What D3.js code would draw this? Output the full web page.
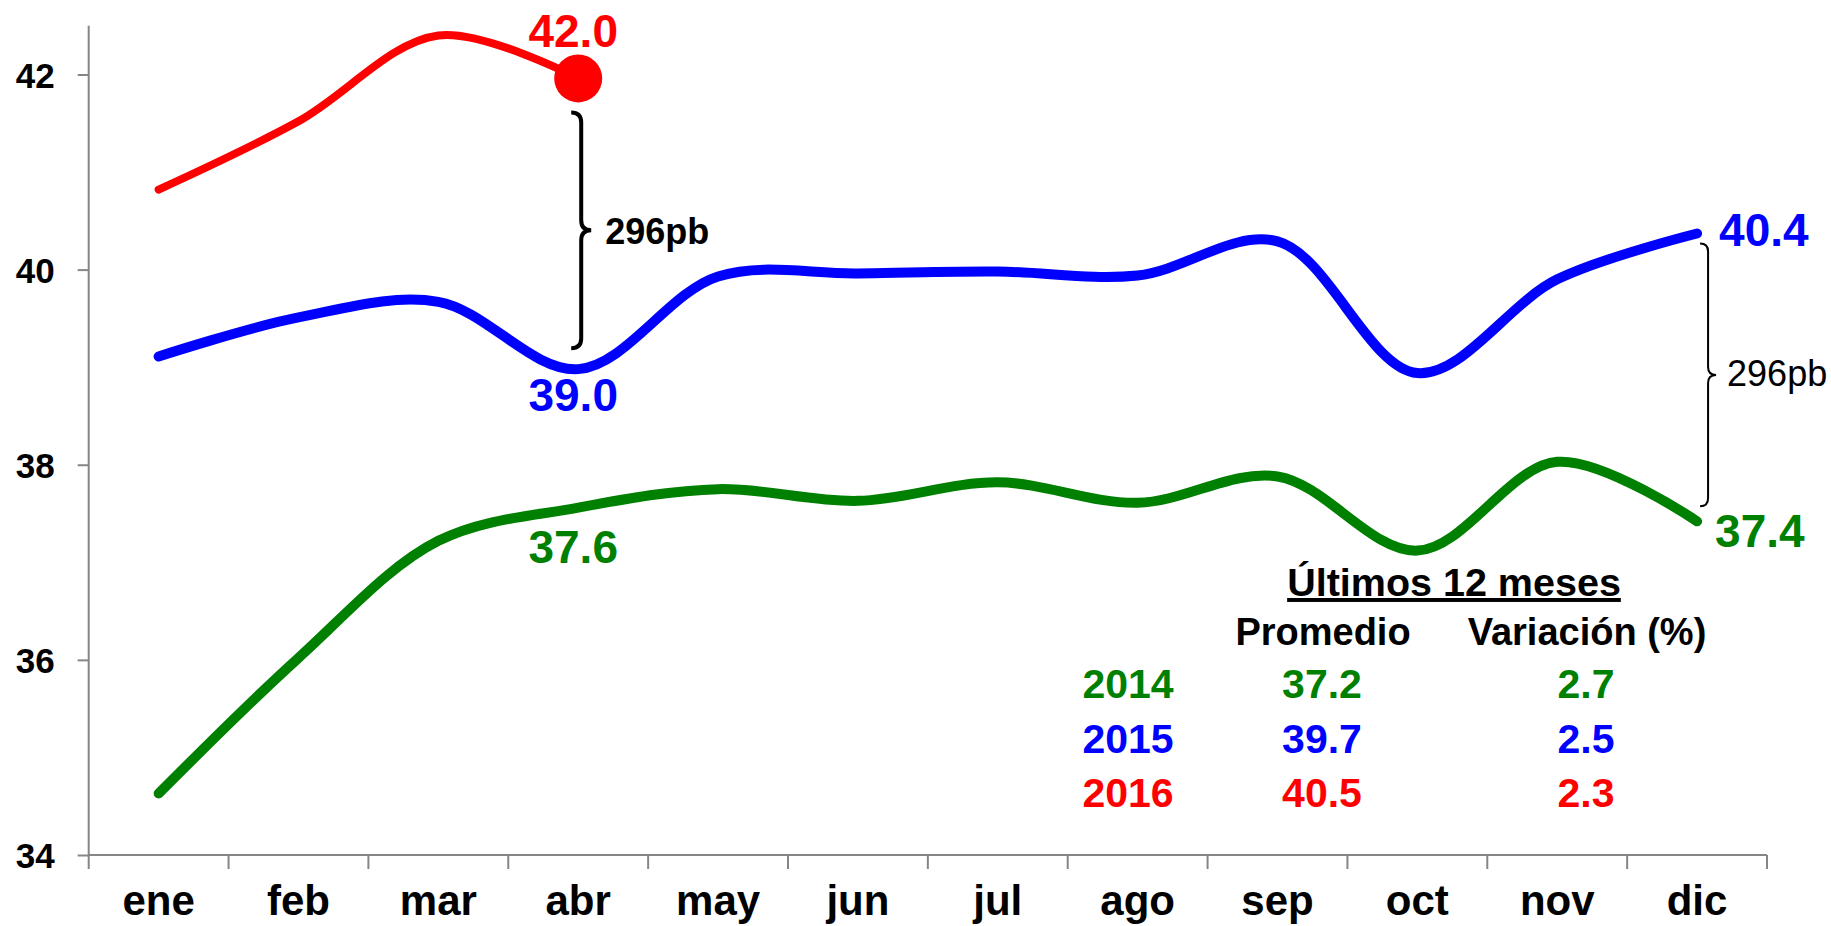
<!DOCTYPE html>
<html>
<head>
<meta charset="utf-8">
<script src="https://cdn.jsdelivr.net/npm/d3@7"></script>
<style>
  html, body { margin: 0; padding: 0; background: #fff; }
  svg { display: block; font-family: "Liberation Sans", Arial, sans-serif; }
</style>
</head>
<body>
<script>
var months = ["ene", "feb", "mar", "abr", "may", "jun", "jul", "ago", "sep", "oct", "nov", "dic"];
var yTicks = [34, 36, 38, 40, 42];

var serie2014 = [34.63, 36.02, 37.22, 37.56, 37.75, 37.63, 37.82, 37.61, 37.88, 37.12, 38.03, 37.42];
var serie2015 = [39.11, 39.51, 39.67, 38.98, 39.93, 39.96, 39.98, 39.94, 40.29, 38.94, 39.90, 40.37];
var serie2016 = [40.82, 41.52, 42.40, 41.96];

var tableYears = ["2014", "2015", "2016"];
var tableAvg = ["37.2", "39.7", "40.5"];
var tableVar = ["2.7", "2.5", "2.3"];
var tableColors = ["#008000", "#0000ff", "#ff0000"];

(function() {
	var width = 1831,
		height = 926,
		left = 88.7,
		right = 1767,
		top = 25.7,
		bottom = 855,
		axisColor = "#868686",
		font = "\"Liberation Sans\", Arial, sans-serif";

	var svg = d3.select("body").append("svg")
		.attr("width", width)
		.attr("height", height);

	var x = d3.scaleBand().domain(months).range([left, right]);
	var y = d3.scaleLinear().domain([34, 42.5]).range([bottom, top]);
	var cx = function(i) { return x(months[i]) + x.bandwidth() / 2; };

	// y axis
	var yAxis = svg.append("g")
		.attr("transform", "translate(" + left + ",0)")
		.call(d3.axisLeft(y).tickValues(yTicks).tickSize(11).tickPadding(0).tickFormat(d3.format("d")));
	yAxis.select(".domain").attr("stroke", axisColor).attr("stroke-width", 2).attr("d", "M0," + top + "V" + bottom);
	yAxis.selectAll(".tick line").attr("stroke", axisColor).attr("stroke-width", 2);
	yAxis.selectAll(".tick text")
		.attr("x", -34)
		.attr("dy", "0.36em")
		.attr("fill", "#000")
		.style("font", "bold 35px " + font);

	// x axis with ticks on band edges
	var xAxis = svg.append("g").attr("transform", "translate(0," + bottom + ")");
	xAxis.append("line")
		.attr("x1", left).attr("x2", right)
		.attr("stroke", axisColor).attr("stroke-width", 2);
	xAxis.selectAll("line.edge")
		.data(months.concat(["end"]))
		.enter().append("line")
		.classed("edge", true)
		.attr("x1", function(d, i) { return left + i * x.bandwidth(); })
		.attr("x2", function(d, i) { return left + i * x.bandwidth(); })
		.attr("y1", 0).attr("y2", 14)
		.attr("stroke", axisColor).attr("stroke-width", 2);
	xAxis.selectAll("text")
		.data(months)
		.enter().append("text")
		.attr("x", function(d, i) { return cx(i); })
		.attr("y", 60)
		.attr("text-anchor", "middle")
		.style("font", "bold 42px " + font)
		.text(function(d) { return d; });

	// lines
	var line = d3.line()
		.x(function(d, i) { return cx(i); })
		.y(function(d) { return y(d); })
		.curve(d3.curveCatmullRom.alpha(0.5));

	var series = [
		{values: serie2014, color: "#008000", w: 10},
		{values: serie2015, color: "#0000ff", w: 10},
		{values: serie2016, color: "#ff0000", w: 8}
	];
	svg.selectAll("path.serie")
		.data(series)
		.enter().append("path")
		.classed("serie", true)
		.attr("d", function(d) { return line(d.values); })
		.attr("fill", "none")
		.attr("stroke", function(d) { return d.color; })
		.attr("stroke-width", function(d) { return d.w; })
		.attr("stroke-linecap", "round")
		.attr("stroke-linejoin", "round");

	// last point of 2016
	var last = serie2016.length - 1;
	svg.append("circle")
		.attr("cx", cx(last))
		.attr("cy", y(serie2016[last]))
		.attr("r", 24)
		.attr("fill", "#ff0000");

	// data labels
	function label(txt, px, py, color, anchor) {
		svg.append("text")
			.attr("x", px).attr("y", py)
			.attr("text-anchor", anchor)
			.attr("fill", color)
			.style("font", "bold 46px " + font)
			.text(txt);
	}
	label(serie2016[3].toFixed(1), cx(3) - 5, y(serie2016[3]) - 31, "#ff0000", "middle");
	label(serie2015[3].toFixed(1), cx(3) - 5, y(serie2015[3]) + 42, "#0000ff", "middle");
	label(serie2014[3].toFixed(1), cx(3) - 5, y(serie2014[3]) + 55, "#008000", "middle");
	label(serie2015[11].toFixed(1), cx(11) + 22, y(serie2015[11]) + 12, "#0000ff", "start");
	label(serie2014[11].toFixed(1), cx(11) + 18, y(serie2014[11]) + 26, "#008000", "start");

	// curly braces
	function brace(bx, y1, y2, w, sw) {
		var ym = (y1 + y2) / 2;
		var p = "M" + (bx - w) + "," + y1 +
			" Q" + bx + "," + y1 + " " + bx + "," + (y1 + w) +
			" V" + (ym - w) +
			" Q" + bx + "," + ym + " " + (bx + w) + "," + ym +
			" Q" + bx + "," + ym + " " + bx + "," + (ym + w) +
			" V" + (y2 - w) +
			" Q" + bx + "," + y2 + " " + (bx - w) + "," + y2;
		svg.append("path")
			.attr("d", p)
			.attr("fill", "none")
			.attr("stroke", "#000")
			.attr("stroke-width", sw);
	}
	brace(cx(3) + 3, y(serie2016[3]) + 34, y(serie2015[3]) - 21, 10, 4);
	svg.append("text")
		.attr("x", cx(3) + 27).attr("y", 244)
		.style("font", "bold 36px " + font)
		.text("296pb");

	brace(cx(11) + 11, y(serie2015[11]) + 10, y(serie2014[11]) - 15, 8, 2);
	svg.append("text")
		.attr("x", cx(11) + 30).attr("y", 386)
		.style("font", "36px " + font)
		.text("296pb");

	// table
	var tbl = svg.append("g").style("font", "bold 38px " + font);
	tbl.append("text")
		.attr("x", 1454).attr("y", 596)
		.attr("text-anchor", "middle")
		.attr("text-decoration", "underline")
		.style("font-size", "39.5px")
		.text("Últimos 12 meses");
	tbl.append("text")
		.attr("x", 1323).attr("y", 645)
		.attr("text-anchor", "middle")
		.text("Promedio");
	tbl.append("text")
		.attr("x", 1587).attr("y", 645)
		.attr("text-anchor", "middle")
		.text("Variación (%)");

	var cols = [
		{vals: tableYears, x: 1128},
		{vals: tableAvg, x: 1322},
		{vals: tableVar, x: 1586}
	];
	cols.forEach(function(c) {
		tbl.selectAll(null)
			.data(c.vals)
			.enter().append("text")
			.attr("x", c.x)
			.attr("y", function(d, i) { return 698 + i * 54.5; })
			.attr("text-anchor", "middle")
			.attr("fill", function(d, i) { return tableColors[i]; })
			.style("font-size", "41px")
			.text(function(d) { return d; });
	});
}());
</script>
</body>
</html>
